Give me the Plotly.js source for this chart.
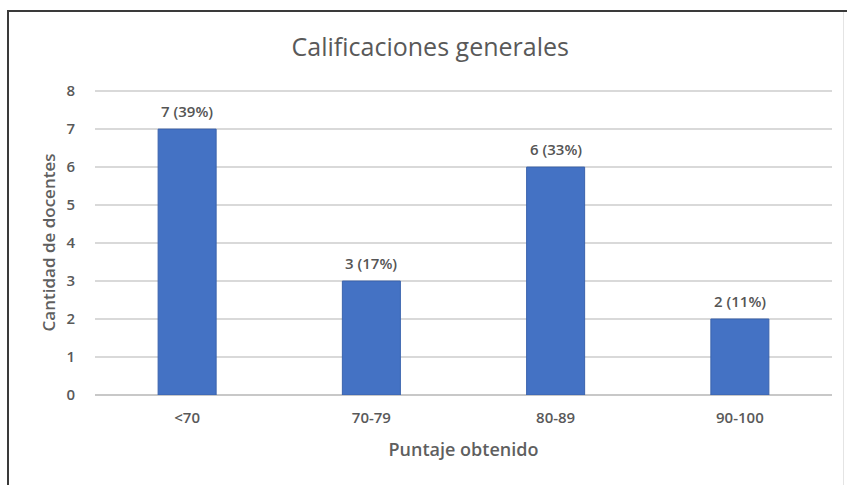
<!DOCTYPE html>
<html>
<head>
<meta charset="utf-8">
<script src="https://cdn.plot.ly/plotly-3.0.1.min.js"></script>
<style>
html,body{margin:0;padding:0;background:#fff;}
#wrap{position:relative;width:847px;height:485px;}
#chart{width:847px;height:485px;}
#bl{position:absolute;left:7px;top:10px;width:2px;height:475px;background:#3a3a3a;}
#bt{position:absolute;left:7px;top:10px;width:840px;height:2px;background:#3a3a3a;}
#br{position:absolute;left:843px;top:12px;width:1px;height:473px;background:#e4e4e4;}
</style>
</head>
<body>
<div id="wrap">
<div id="chart"></div>
<div id="bl"></div><div id="bt"></div><div id="br"></div>
</div>
<script>
var categories = ["<70", "70-79", "80-89", "90-100"];
var counts = [7, 3, 6, 2];
var percents = [39, 17, 33, 11];
var yTicks = [0, 1, 2, 3, 4, 5, 6, 7, 8];

var labels = counts.map(function(c, i){ return c + " (" + percents[i] + "%)"; });
var fontFam = "'Open Sans', 'Noto Sans', sans-serif";

var trace = {
  type: "bar",
  x: categories,
  y: counts,
  marker: {color: "#4472C4", line: {color: "#3b63ad", width: 1}},
  width: 0.315,
  hoverinfo: "none"
};

var annotations = categories.map(function(c, i){
  return {
    x: c, y: counts[i], xref: "x", yref: "y",
    text: labels[i], showarrow: false,
    yanchor: "bottom", yshift: 6,
    font: {family: fontFam, size: 15, weight: 600, color: "#555555"}
  };
});

var layout = {
  width: 847, height: 485,
  margin: {l: 95, r: 15, t: 90, b: 90},
  paper_bgcolor: "#fff", plot_bgcolor: "#fff",
  showlegend: false,
  annotations: annotations,
  title: {text: "Calificaciones generales", x: 0.508, xanchor: "center", y: 0.903, yanchor: "middle",
          font: {family: fontFam, size: 25, color: "#595959"}},
  xaxis: {
    type: "category",
    showgrid: false, showline: false, zeroline: false,
    ticks: "outside", ticklen: 9, tickcolor: "rgba(0,0,0,0)",
    tickfont: {family: fontFam, size: 15, weight: 600, color: "#595959"},
    title: {text: "Puntaje obtenido", standoff: 17, font: {family: fontFam, size: 18, weight: 600, color: "#5f5f5f"}}
  },
  yaxis: {
    range: [0, 8.03],
    tickvals: yTicks,
    showgrid: true, gridcolor: "#d9d9d9", gridwidth: 1.5,
    zeroline: true, zerolinecolor: "#c8c8c8", zerolinewidth: 1.5,
    showline: false,
    ticks: "outside", ticklen: 16, tickcolor: "rgba(0,0,0,0)",
    tickfont: {family: fontFam, size: 15, weight: 600, color: "#595959"},
    title: {text: "Cantidad de docentes", standoff: 6, font: {family: fontFam, size: 17, weight: 600, color: "#5f5f5f"}}
  },
  bargap: 0.685
};

Plotly.newPlot("chart", [trace], layout, {displayModeBar: false, staticPlot: true});
</script>
</body>
</html>
